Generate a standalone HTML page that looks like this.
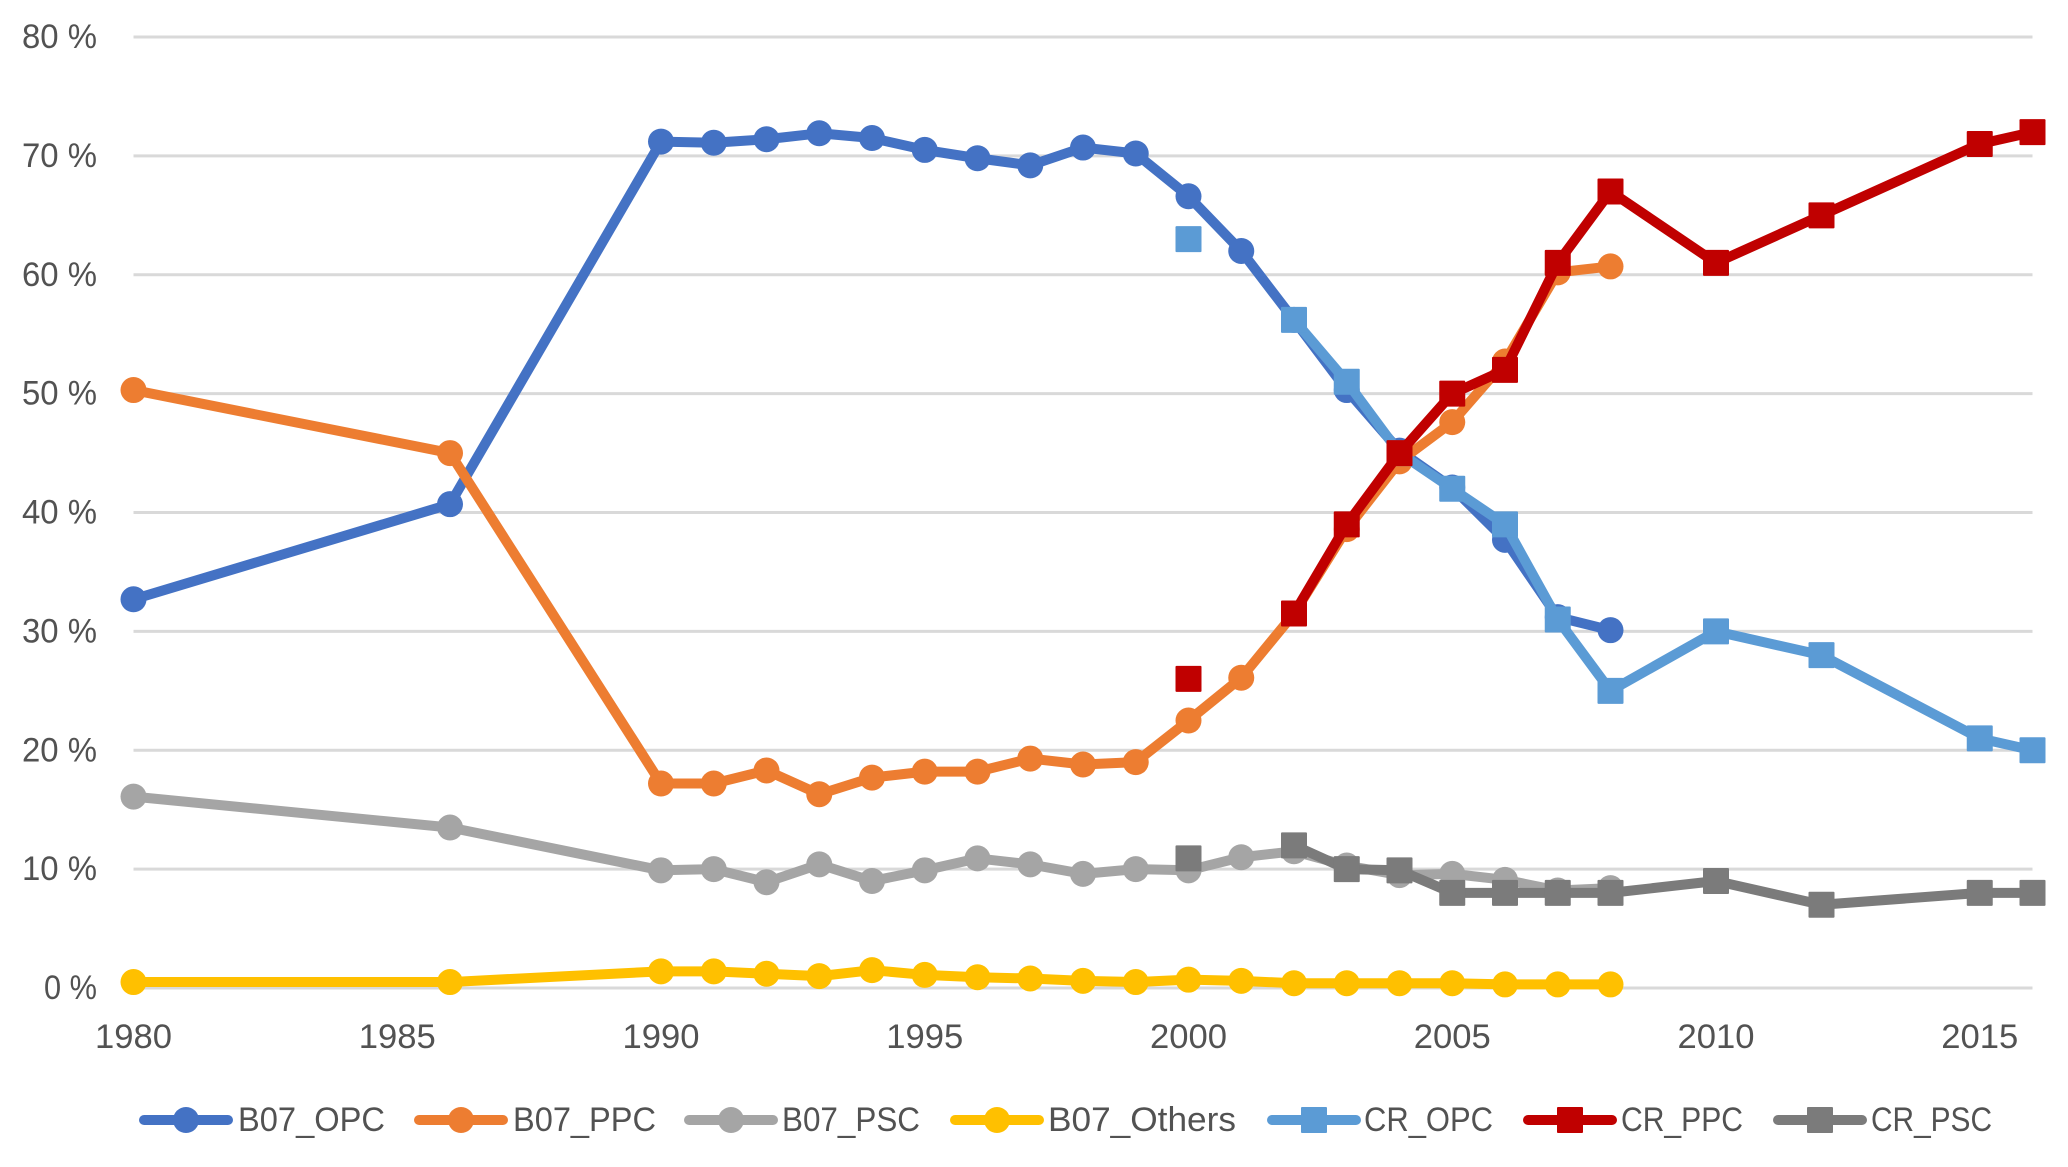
<!DOCTYPE html>
<html lang="en">
<head>
<meta charset="utf-8">
<title>B07 vs CR vote share chart</title>
<style>
html,body{margin:0;padding:0;background:#fff;width:2068px;height:1167px;overflow:hidden}
svg{display:block}
text{font-family:"Liberation Sans",Arial,sans-serif;font-size:34px;fill:#525252}
</style>
</head>
<body>
<svg id="chart" xmlns="http://www.w3.org/2000/svg" width="2068" height="1167" viewBox="0 0 2068 1167">
  <g id="grid"></g>
  <g id="yaxis"></g>
  <g id="xaxis"></g>
  <g id="plot"></g>
  <g id="legend"></g>
</svg>
<script>
const yearsB07 = [1980,1986,1990,1991,1992,1993,1994,1995,1996,1997,1998,1999,2000,2001,2002,2003,2004,2005,2006,2007,2008];
const yearsCR = [2000,2001,2002,2003,2004,2005,2006,2007,2008,2010,2012,2015,2016];
const b07Opc = [32.7,40.7,71.2,71.1,71.4,71.9,71.5,70.5,69.8,69.2,70.7,70.2,66.6,62,56.2,50.3,45.2,42.1,37.7,31.2,30.1];
const b07Ppc = [50.3,45,17.2,17.2,18.3,16.3,17.7,18.2,18.2,19.3,18.8,19,22.5,26.1,31.5,38.6,44.3,47.6,52.7,60.2,60.7];
const b07Psc = [16.1,13.5,9.9,10,8.9,10.4,9,9.9,10.9,10.4,9.6,10,9.9,11,11.5,10.3,9.5,9.6,9.1,8.2,8.4];
const b07Others = [0.5,0.5,1.4,1.4,1.2,1,1.5,1.1,0.9,0.8,0.6,0.5,0.7,0.6,0.4,0.4,0.4,0.4,0.3,0.3,0.3];
const crOpc = [63,null,56.2,51,45,42,39,31,25,30,28,21,20];
const crPpc = [26,null,31.5,39,45,50,52,61,67,61,65,71,72];
const crPsc = [10.9,null,12,10,9.9,8,8,8,8,9,7,8,8];
const yTicks = [0,10,20,30,40,50,60,70,80];
const xTicks = [1980,1985,1990,1995,2000,2005,2010,2015];

const NS = 'http://www.w3.org/2000/svg';
const X0 = 133.5, X1 = 2032.5, YEAR0 = 1980, YEAR1 = 2016;
const Y0 = 988, Y80 = 37;
function xScale(year){ return X0 + (year - YEAR0) * (X1 - X0) / (YEAR1 - YEAR0); }
function yScale(v){ return Y0 + v * (Y80 - Y0) / 80; }
function make(tag, attrs, parent){
  const el = document.createElementNS(NS, tag);
  for (const k in attrs) el.setAttribute(k, attrs[k]);
  parent.appendChild(el);
  return el;
}

const gridG = document.getElementById('grid');
const yG = document.getElementById('yaxis');
yTicks.forEach(function(t){
  const line = make('line', {x1:X0, x2:X1, y1:yScale(t), y2:yScale(t), stroke:'#d9d9d9', 'stroke-width':3}, gridG);
  
  
  const label = make('text', {x:97, y:yScale(t) + 11, 'text-anchor':'end', textLength:(t === 0 ? 53 : 75), lengthAdjust:'spacingAndGlyphs'}, yG);
  label.textContent = t + ' %';
  
  
});

const xG = document.getElementById('xaxis');
xTicks.forEach(function(t){
  const label = make('text', {x:xScale(t), y:1048, 'text-anchor':'middle', textLength:77, lengthAdjust:'spacingAndGlyphs'}, xG);
  label.textContent = String(t);
  
  
});

const seriesNames = ['B07_OPC','B07_PPC','B07_PSC','B07_Others','CR_OPC','CR_PPC','CR_PSC'];
const seriesColors = ['#4472c4','#ed7d31','#a5a5a5','#ffc000','#5b9bd5','#c00000','#7b7b7b'];
const seriesValues = [b07Opc,b07Ppc,b07Psc,b07Others,crOpc,crPpc,crPsc];
const seriesYears = [yearsB07,yearsB07,yearsB07,yearsB07,yearsCR,yearsCR,yearsCR];
const legendLineX = [140,415,685,951,1268,1524,1774];
const legendTextX = [238,513,782,1048,1364,1621,1871];
const legendTextW = [147,143,138,188,129,122,121];
const LEGEND_Y = 1120, LW = 10, R = 13, S = 26;

function drawMarker(parent, isSquare, cx, cy, color){
  if (isSquare) return make('rect', {x:cx - S/2, y:cy - S/2, width:S, height:S, rx:1, fill:color}, parent);
  return make('circle', {cx:cx, cy:cy, r:R, fill:color}, parent);
}

const plotG = document.getElementById('plot');
seriesNames.forEach(function(name, i){
  const key = name.toLowerCase().replace('_', '-');
  const g = make('g', {}, plotG);
  
  
  const vals = seriesValues[i], yrs = seriesYears[i], color = seriesColors[i];
  let d = '', pen = false;
  vals.forEach(function(v, j){
    if (v === null) { pen = false; return; }
    const next = vals[j + 1];
    if (!pen && (next === null || next === undefined)) return;
    d += (pen ? 'L' : 'M') + xScale(yrs[j]).toFixed(2) + ' ' + yScale(v).toFixed(2);
    pen = true;
  });
  const path = make('path', {d:d, fill:'none', stroke:color, 'stroke-width':LW, 'stroke-linejoin':'round', 'stroke-linecap':'round'}, g);
  
  
  vals.forEach(function(v, j){
    if (v === null) return;
    const m = drawMarker(g, i >= 4, xScale(yrs[j]), yScale(v), color);
    
    
  });
});

const legendG = document.getElementById('legend');
seriesNames.forEach(function(name, i){
  const key = name.toLowerCase().replace('_', '-');
  const g = make('g', {}, legendG);
  
  
  const lx = legendLineX[i], color = seriesColors[i];
  make('line', {x1:lx + 4, x2:lx + 88, y1:LEGEND_Y, y2:LEGEND_Y, stroke:color, 'stroke-width':LW, 'stroke-linecap':'round'}, g);
  drawMarker(g, i >= 4, lx + 46, LEGEND_Y, color);
  const label = make('text', {x:legendTextX[i], y:1131, textLength:legendTextW[i], lengthAdjust:'spacingAndGlyphs'}, g);
  label.textContent = name;
  
  
});
</script>
</body>
</html>
